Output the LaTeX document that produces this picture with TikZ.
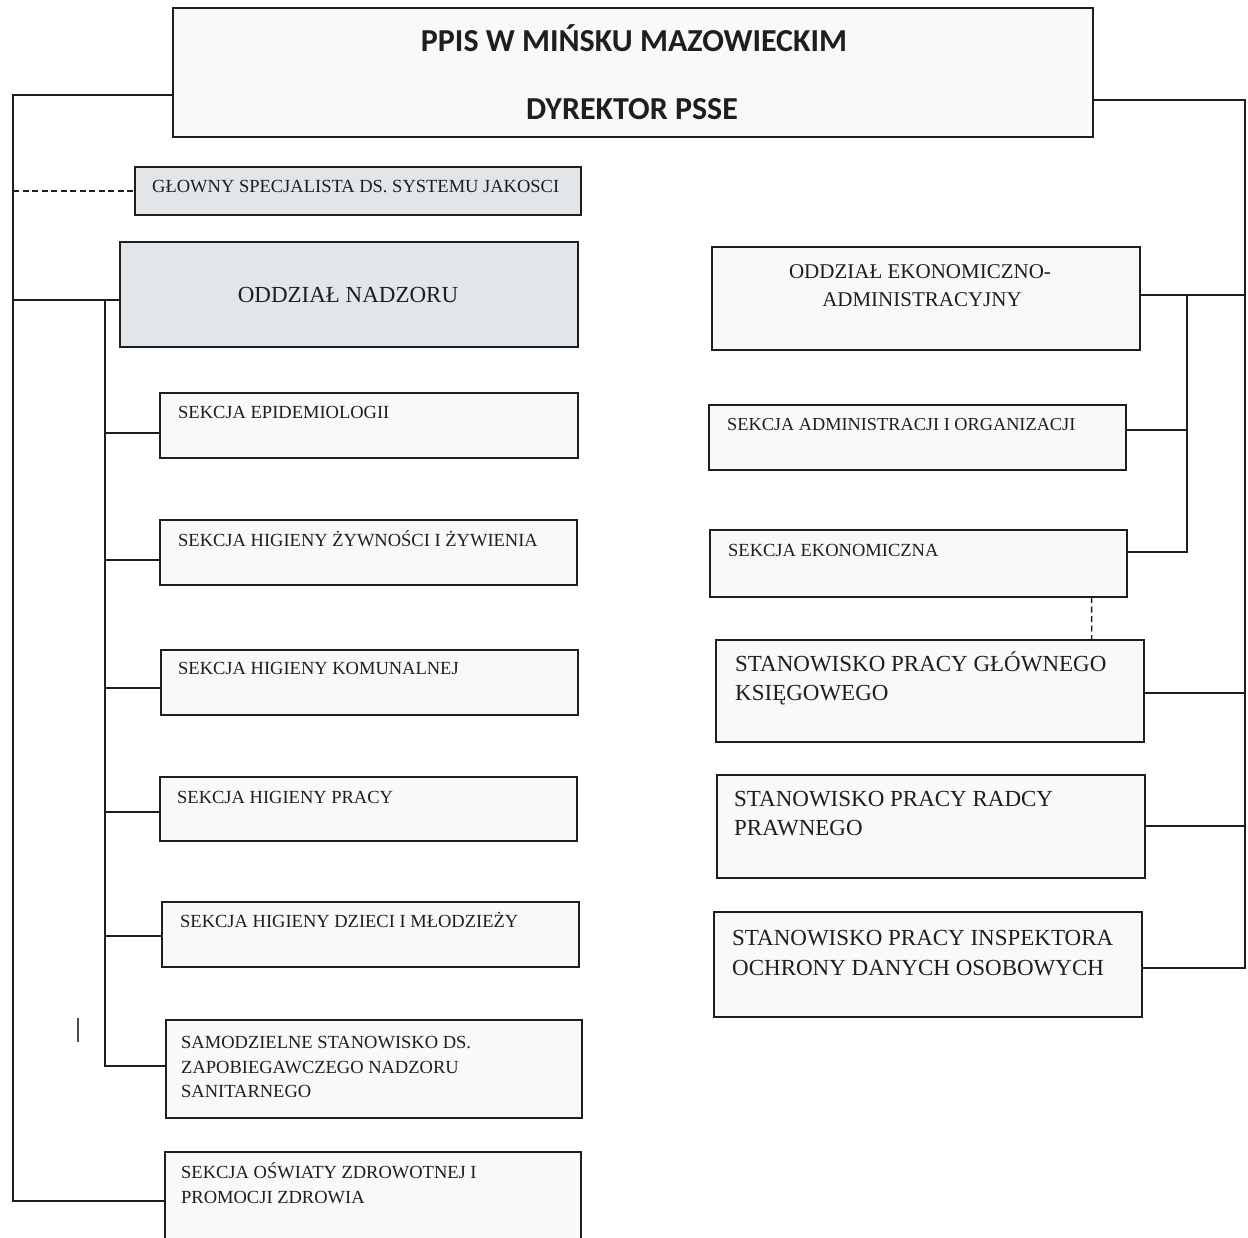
\documentclass[tikz,border=0pt]{standalone}
\usepackage{fontspec}
\usetikzlibrary{calc}
\setmainfont{Liberation Serif}
\newfontfamily\hdrfont{Carlito}
\definecolor{boxgray}{RGB}{226,230,232}
\definecolor{boxfill}{RGB}{248,249,249}
\definecolor{inkc}{RGB}{30,30,30}
\begin{document}
\begin{tikzpicture}[x=1pt,y=-1pt,
  bx/.style={draw=inkc, line width=1.5pt, fill=boxfill, anchor=north west, inner sep=0pt, outer sep=0pt},
  gbx/.style={bx, fill=boxgray},
  conn/.style={line width=1.4pt, draw=inkc},
  dconn/.style={conn, dashed, dash pattern=on 6pt off 3.5pt},
  ts/.style={anchor=base west, inner sep=0pt, text=inkc, font=\fontsize{18.5}{22}\selectfont},
  tm/.style={anchor=base west, inner sep=0pt, text=inkc, font=\fontsize{23}{28}\selectfont},
  hd/.style={anchor=base, inner sep=0pt, text=inkc, font=\hdrfont\bfseries\fontsize{32}{38}\selectfont}
]
\useasboundingbox (0,0) rectangle (1248,1238);
\fill[white] (0,0) rectangle (1248,1238);

% rails
\coordinate (rL) at (13,0);
\coordinate (riL) at (105,0);
\coordinate (rR) at (1245,0);
\coordinate (riR) at (1187,0);

% top box
\node[bx, minimum width=920pt, minimum height=129pt] (top) at (173,8) {};
\node[hd] (top-t1) at (634,52) {PPIS W MIŃSKU MAZOWIECKIM};
\node[hd] (top-t2) at (632,120) {DYREKTOR PSSE};
\coordinate (tL) at ([yshift=-22.5pt]top.west);
\coordinate (tR) at ([yshift=-27.5pt]top.east);

% left column
\node[gbx, minimum width=446pt, minimum height=48pt] (gs) at (135,167) {};
\node[ts] (gs-t) at (152,193) {GŁOWNY SPECJALISTA DS. SYSTEMU JAKOSCI};

\node[gbx, minimum width=458pt, minimum height=105pt] (nadzor) at (120,242) {};
\node[tm, anchor=base] (nadzor-t) at (348,302.6) {ODDZIAŁ NADZORU};

\node[bx, minimum width=418pt, minimum height=65pt] (epi) at (160,393) {};
\node[ts] (epi-t) at (178,419) {SEKCJA EPIDEMIOLOGII};

\node[bx, minimum width=417pt, minimum height=65pt] (zyw) at (160,520) {};
\node[ts] (zyw-t) at (178,546) {SEKCJA HIGIENY ŻYWNOŚCI I ŻYWIENIA};

\node[bx, minimum width=417pt, minimum height=65pt] (kom) at (161,650) {};
\node[ts] (kom-t) at (178,674) {SEKCJA HIGIENY KOMUNALNEJ};

\node[bx, minimum width=417pt, minimum height=64pt] (pracy) at (160,777) {};
\node[ts] (pracy-t) at (177,803) {SEKCJA HIGIENY PRACY};

\node[bx, minimum width=417pt, minimum height=65pt] (dzieci) at (162,902) {};
\node[ts] (dzieci-t) at (180,927) {SEKCJA HIGIENY DZIECI I MŁODZIEŻY};

\node[bx, minimum width=416pt, minimum height=98pt] (samodz) at (166,1020) {};
\node[ts] (samodz-t1) at (181,1048) {SAMODZIELNE STANOWISKO DS.};
\node[ts] (samodz-t2) at (181,1073) {ZAPOBIEGAWCZEGO NADZORU};
\node[ts] (samodz-t3) at (181,1097) {SANITARNEGO};

\node[bx, minimum width=416pt, minimum height=100pt] (osw) at (165,1152) {};
\node[ts] (osw-t1) at (181,1178) {SEKCJA OŚWIATY ZDROWOTNEJ I};
\node[ts] (osw-t2) at (181,1203) {PROMOCJI ZDROWIA};

% right column
\node[bx, minimum width=428pt, minimum height=103pt] (ekon) at (712,247) {};
\node[anchor=base, inner sep=0pt, text=inkc, font=\fontsize{21}{26}\selectfont] (ekon-t1) at (920,279) {ODDZIAŁ EKONOMICZNO-};
\node[anchor=base, inner sep=0pt, text=inkc, font=\fontsize{21}{26}\selectfont] (ekon-t2) at (922,307) {ADMINISTRACYJNY};

\node[bx, minimum width=417pt, minimum height=65pt] (adm) at (709,405) {};
\node[ts, font=\fontsize{18.3}{22}\selectfont] (adm-t) at (727,431) {SEKCJA ADMINISTRACJI I ORGANIZACJI};

\node[bx, minimum width=417pt, minimum height=67pt] (ekn) at (710,530) {};
\node[ts] (ekn-t) at (728,556) {SEKCJA EKONOMICZNA};

\node[bx, minimum width=428pt, minimum height=102pt] (ksieg) at (716,640) {};
\node[tm] (ksieg-t1) at (735,671.6) {STANOWISKO PRACY GŁÓWNEGO};
\node[tm] (ksieg-t2) at (735,700.6) {KSIĘGOWEGO};

\node[bx, minimum width=428pt, minimum height=103pt] (radcy) at (717,775) {};
\node[tm] (radcy-t1) at (734,806.6) {STANOWISKO PRACY RADCY};
\node[tm] (radcy-t2) at (734,835.6) {PRAWNEGO};

\node[bx, minimum width=428pt, minimum height=105pt] (insp) at (714,912) {};
\node[tm] (insp-t1) at (732,945.6) {STANOWISKO PRACY INSPEKTORA};
\node[tm] (insp-t2) at (732,975.6) {OCHRONY DANYCH OSOBOWYCH};

% branch points
\coordinate (c-nadzor) at ([yshift=-5.5pt]nadzor.west);
\coordinate (c-epi) at ([yshift=-7.5pt]epi.west);
\coordinate (c-zyw) at ([yshift=-7.5pt]zyw.west);
\coordinate (c-kom) at ([yshift=-5.5pt]kom.west);
\coordinate (c-pracy) at ([yshift=-3pt]pracy.west);
\coordinate (c-dzieci) at ([yshift=-1.5pt]dzieci.west);
\coordinate (c-samodz) at ([yshift=3pt]samodz.west);
\coordinate (c-osw) at ([yshift=1pt]osw.west);
\coordinate (c-ekon) at ([yshift=3.5pt]ekon.east);
\coordinate (c-adm) at ([yshift=7.5pt]adm.east);
\coordinate (c-ekn) at ([yshift=11.5pt]ekn.east);
\coordinate (c-ksieg) at ([yshift=-2pt]ksieg.east);
\coordinate (c-radcy) at ([yshift=0.5pt]radcy.east);
\coordinate (c-insp) at ([yshift=-3.5pt]insp.east);

% left connectors
\draw[conn] (tL) -| (rL |- c-osw) -- (c-osw);
\draw[dconn] (rL |- gs.west) -- (gs.west);
\draw[conn] (rL |- c-nadzor) -- (c-nadzor);
\draw[conn] (riL |- c-nadzor) -- (riL |- c-samodz) -- (c-samodz);
\foreach \b in {epi,zyw,kom,pracy,dzieci}
  \draw[conn] (riL |- c-\b) -- (c-\b);
\coordinate (tick1) at (78,1018);
\coordinate (tick2) at (78,1042);
\draw[line width=1.2pt, draw=black!70] (tick1) -- (tick2);

% right connectors
\draw[conn] (tR) -| (rR |- c-insp) -- (c-insp);
\draw[conn] (c-ekon) -- (rR |- c-ekon);
\draw[conn] (riR |- c-ekon) -- (riR |- c-ekn) -- (c-ekn);
\draw[conn] (c-adm) -- (riR |- c-adm);
\draw[conn] (c-ksieg) -- (rR |- c-ksieg);
\draw[conn] (c-radcy) -- (rR |- c-radcy);
\draw[dconn] ($(ekn.south west)!0.915!(ekn.south east)$) -- ($(ksieg.north west)!0.878!(ksieg.north east)$);
\end{tikzpicture}
\end{document}
